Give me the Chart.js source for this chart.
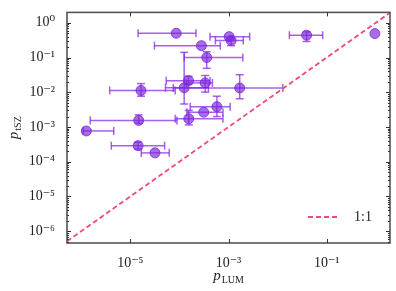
<!DOCTYPE html>
<html>
<head>
<meta charset="utf-8">
<script src="https://cdn.jsdelivr.net/npm/chart.js@4.4.1/dist/chart.umd.min.js"></script>
<style>
  html, body { margin: 0; padding: 0; background: #fff; }
  #wrap { width: 396px; height: 291px; }
</style>
</head>
<body>
<div id="wrap"><canvas id="myChart"></canvas></div>
<script>
// p-values per object: x = p_LUM, y = p_tSZ (with lower / upper bounds, null = no bar)
const pLum   = [8.6e-5, 2.8e-4, 1.03e-3, 1.13e-3, 3.6e-4, 0.039, 0.96, 1.65e-5, 1.53e-4, 1.25e-4, 3.35e-4, 1.69e-3, 1.48e-5, 1.55e-4, 3.13e-4, 5.8e-4, 1.27e-6, 1.44e-5, 3.18e-5];
const pLumLo = [1.44e-5, 3.1e-5, 4.2e-4, 5.4e-4, 1.25e-4, 0.0174, null, 3.8e-6, 5.4e-5, 5.2e-5, 1.38e-4, 7.5e-5, 1.53e-6, 8.2e-5, 1.42e-4, 1.66e-4, 1.09e-6, 4.1e-6, 1.67e-5];
const pLumHi = [2.17e-4, 6.8e-4, 2.7e-3, 2.0e-3, 1.96e-3, 0.083, null, 8.2e-5, 4.2e-4, 3.9e-4, 4.7e-4, 0.0128, 8.9e-5, 7.7e-4, 7.7e-4, 1.08e-3, 4.6e-6, 5.0e-5, 6.2e-5];
const pTsz   = [0.50, 0.22, 0.40, 0.31, 0.10, 0.44, 0.49, 0.0113, 0.0216, 0.0135, 0.0186, 0.0133, 1.55e-3, 1.73e-3, 2.67e-3, 3.84e-3, 7.7e-4, 2.9e-4, 1.80e-4];
const pTszLo = [null, null, null, 0.22, 0.049, 0.29, null, 0.0077, 0.017, 0.0046, 0.0101, 0.0065, 1.28e-3, 1.15e-3, null, 2.0e-3, null, 2.33e-4, null];
const pTszHi = [null, null, null, 0.35, 0.147, 0.55, null, 0.0178, 0.029, 0.141, 0.0304, 0.032, 2.24e-3, 3.0e-3, null, 7.7e-3, null, 3.67e-4, null];

const axisMin = 10 ** -6.29;
const axisMax = 10 ** 0.29;
const xTicks = [1e-5, 1e-3, 1e-1];
const yTicks = [1e-6, 1e-5, 1e-4, 1e-3, 1e-2, 1e-1, 1e0];

const purple = "rgba(138, 43, 226, 0.75)";
const lineColor = "#f04a7c";
const frameColor = "#555555";

Chart.defaults.font.family = "'Liberation Serif', 'DejaVu Serif', serif";
Chart.defaults.color = "#222";

const sup = { "-": "\u207B", "0": "\u2070", "1": "\u00B9", "2": "\u00B2", "3": "\u00B3", "4": "\u2074", "5": "\u2075", "6": "\u2076", "7": "\u2077", "8": "\u2078", "9": "\u2079" };
function powLabel(v) {
    const e = Math.round(Math.log10(v));
    return "10" + String(e).split("").map(c => sup[c]).join("");
}

// error bars, drawn under the markers
const errorBars = {
    id: "errorBars",
    beforeDatasetsDraw(chart) {
        const { ctx, scales: { x, y } } = chart;
        const cap = 4;
        ctx.save();
        ctx.strokeStyle = purple;
        ctx.lineWidth = 1.5;
        const seg = (a, b, c, d) => { ctx.beginPath(); ctx.moveTo(a, b); ctx.lineTo(c, d); ctx.stroke(); };
        pLum.forEach((v, i) => {
            const px = x.getPixelForValue(v);
            const py = y.getPixelForValue(pTsz[i]);
            if (pLumLo[i] !== null) {
                const a = x.getPixelForValue(pLumLo[i]);
                const b = x.getPixelForValue(pLumHi[i]);
                seg(a, py, b, py);
                seg(a, py - cap, a, py + cap);
                seg(b, py - cap, b, py + cap);
            }
            if (pTszLo[i] !== null) {
                const a = y.getPixelForValue(pTszLo[i]);
                const b = y.getPixelForValue(pTszHi[i]);
                seg(px, a, px, b);
                seg(px - cap, a, px + cap, a);
                seg(px - cap, b, px + cap, b);
            }
        });
        ctx.restore();
    }
};

// frame on all four sides with inward ticks, axis titles and legend
const frame = {
    id: "frame",
    afterDraw(chart) {
        const { ctx, chartArea: ca, scales: { x, y } } = chart;
        ctx.save();
        ctx.strokeStyle = frameColor;
        ctx.lineWidth = 1.6;
        ctx.strokeRect(ca.left, ca.top, ca.right - ca.left, ca.bottom - ca.top);

        ctx.strokeStyle = "#333";
        ctx.lineWidth = 1;
        const tick = (a, b, c, d) => { ctx.beginPath(); ctx.moveTo(a, b); ctx.lineTo(c, d); ctx.stroke(); };
        xTicks.forEach(v => {
            const px = Math.round(x.getPixelForValue(v)) + 0.5;
            tick(px, ca.bottom, px, ca.bottom - 4);
            tick(px, ca.top, px, ca.top + 4);
        });
        for (let e = -7; e <= 0; e++) {
            for (let m = 1; m <= 9; m++) {
                const v = m * 10 ** e;
                if (v < y.min || v > y.max) continue;
                const py = Math.round(y.getPixelForValue(v)) + 0.5;
                const len = m === 1 ? 4 : 2;
                tick(ca.left, py, ca.left + len, py);
                tick(ca.right, py, ca.right - len, py);
            }
        }

        // axis titles
        ctx.fillStyle = "#222";
        ctx.textBaseline = "alphabetic";
        const cx = (ca.left + ca.right) / 2;
        ctx.font = "italic 15px 'Liberation Serif', serif";
        const pw = ctx.measureText("p").width;
        ctx.font = "10px 'Liberation Serif', serif";
        const sw = ctx.measureText("LUM").width;
        let sx = cx - (pw + sw + 1) / 2;
        ctx.font = "italic 15px 'Liberation Serif', serif";
        ctx.fillText("p", sx, 280);
        ctx.font = "10px 'Liberation Serif', serif";
        ctx.fillText("LUM", sx + pw + 1, 283);

        ctx.save();
        ctx.translate(18, (ca.top + ca.bottom) / 2);
        ctx.rotate(-Math.PI / 2);
        ctx.font = "10px 'Liberation Serif', serif";
        const tw = ctx.measureText("tSZ").width;
        sx = -(pw + tw + 1) / 2;
        ctx.font = "italic 15px 'Liberation Serif', serif";
        ctx.fillText("p", sx, 0);
        ctx.font = "10px 'Liberation Serif', serif";
        ctx.fillText("tSZ", sx + pw + 1, 3);
        ctx.restore();

        // legend
        const ds = chart.data.datasets[1];
        const ly = ca.bottom - 26;
        ctx.strokeStyle = ds.borderColor;
        ctx.lineWidth = ds.borderWidth;
        ctx.setLineDash(ds.borderDash);
        tick(ca.right - 82, ly, ca.right - 50, ly);
        ctx.setLineDash([]);
        ctx.font = "14px 'Liberation Serif', serif";
        ctx.textBaseline = "middle";
        ctx.fillText(ds.label, ca.right - 36, ly);
        ctx.restore();
    }
};

new Chart("myChart", {
    type: "scatter",
    data: {
        datasets: [{
            label: "data",
            data: pLum.map((v, i) => ({ x: v, y: pTsz[i] })),
            backgroundColor: "rgba(125, 40, 220, 0.68)",
            borderColor: "rgba(120, 40, 215, 0.8)",
            borderWidth: 1,
            pointRadius: 5,
            pointHoverRadius: 5
        }, {
            type: "line",
            label: "1:1",
            data: [{ x: axisMin, y: axisMin }, { x: axisMax, y: axisMax }],
            borderColor: lineColor,
            borderWidth: 1.8,
            borderDash: [5, 3],
            pointRadius: 0,
            fill: false
        }]
    },
    options: {
        responsive: true,
        maintainAspectRatio: false,
        animation: false,
        layout: { padding: { left: 0, right: 6, top: 6, bottom: 0 } },
        plugins: {
            legend: { display: false },
            tooltip: { enabled: false }
        },
        scales: {
            x: {
                type: "logarithmic",
                min: axisMin,
                max: axisMax,
                afterBuildTicks: s => { s.ticks = xTicks.map(v => ({ value: v })); },
                afterFit: s => { s.height = 48; },
                grid: { display: false },
                border: { display: false },
                ticks: {
                    font: { size: 14 },
                    padding: 4,
                    maxRotation: 0,
                    callback: v => powLabel(v)
                }
            },
            y: {
                type: "logarithmic",
                min: 10 ** -6.34,
                max: 10 ** 0.30,
                afterBuildTicks: s => { s.ticks = yTicks.map(v => ({ value: v })); },
                afterFit: s => { s.width = 67; },
                grid: { display: false },
                border: { display: false },
                ticks: {
                    font: { size: 14 },
                    padding: 4,
                    callback: v => powLabel(v)
                }
            }
        }
    },
    plugins: [errorBars, frame]
});
</script>
</body>
</html>
